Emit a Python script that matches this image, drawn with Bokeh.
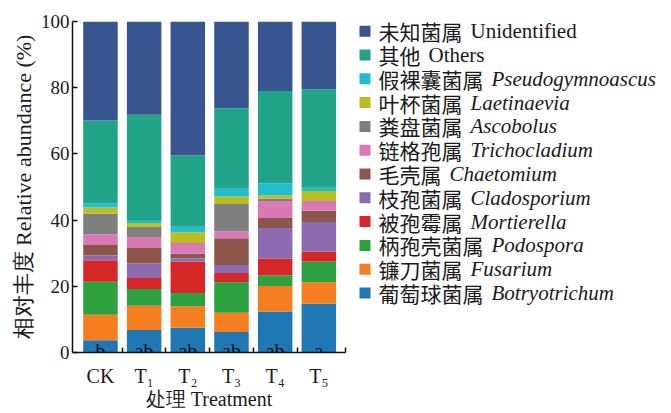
import math
from bokeh.plotting import figure
from bokeh.layouts import row
from bokeh.models import Range1d, FixedTicker, ColumnDataSource
from bokeh.core.properties import value
from bokeh.embed import file_html
from bokeh.resources import INLINE

treatments = ["CK", "T₁", "T₂", "T₃", "T₄", "T₅"]
letters = ["b", "ab", "ab", "ab", "ab", "a"]
y_ticks = [0, 20, 40, 60, 80, 100]
y_title = "相对丰度 Relative abundance (%)"
x_title = "处理 Treatment"

# stack order: bottom -> top
genera_cn = ["葡萄球菌属", "镰刀菌属", "柄孢壳菌属", "被孢霉属", "枝孢菌属", "毛壳属",
             "链格孢属", "粪盘菌属", "叶杯菌属", "假裸囊菌属", "其他", "未知菌属"]
genera_en = ["Botryotrichum", "Fusarium", "Podospora", "Mortierella", "Cladosporium",
             "Chaetomium", "Trichocladium", "Ascobolus", "Laetinaevia",
             "Pseudogymnoascus", "Others", "Unidentified"]
italic_en = [True] * 10 + [False, False]
colors = ["#1f77b4", "#f57f20", "#2ca140", "#d62728", "#8c6bb1", "#8c564b",
          "#d97ab6", "#7f7f7f", "#bcbd22", "#1fbecf", "#20a386", "#385590"]

botryotrichum = [3.7, 6.8, 7.5, 6.2, 12.4, 14.7]
fusarium = [7.7, 7.3, 6.5, 5.8, 7.7, 6.5]
podospora = [10.0, 5.1, 4.0, 9.2, 3.2, 6.3]
mortierella = [6.5, 3.3, 9.4, 2.8, 5.0, 3.0]
cladosporium = [1.4, 4.4, 1.0, 2.4, 9.3, 8.9]
chaetomium = [3.2, 4.7, 1.4, 8.1, 3.0, 3.4]
trichocladium = [3.2, 3.3, 3.3, 2.1, 5.2, 3.0]
ascobolus = [6.2, 3.0, 0.0, 8.3, 0.7, 0.0]
laetinaevia = [1.9, 1.2, 3.2, 2.2, 1.0, 3.0]
pseudogymnoascus = [1.2, 0.9, 1.7, 2.4, 3.6, 1.0]
others = [25.1, 31.8, 21.5, 24.3, 27.9, 29.7]
unidentified = [29.9, 28.2, 40.5, 26.2, 21.0, 20.5]

series = [botryotrichum, fusarium, podospora, mortierella, cladosporium, chaetomium,
          trichocladium, ascobolus, laetinaevia, pseudogymnoascus, others, unidentified]

SERIF = "Liberation Serif"
FS = "20px"
TOP_B = 21
FRAME_H = 331
BOT_B = 60
H = TOP_B + FRAME_H + BOT_B


def bare(fig):
    fig.axis.visible = False
    fig.grid.grid_line_color = None
    fig.outline_line_color = None


# ---- y-axis title panel ----
YW = 36
ylab = figure(width=YW, height=H, output_backend="svg", toolbar_location=None,
              x_range=Range1d(0, YW), y_range=Range1d(0, 100),
              min_border_left=0, min_border_right=0,
              min_border_top=TOP_B, min_border_bottom=BOT_B)
bare(ylab)
ylab.text(x=[22.5], y=[50], text=[y_title], angle=math.pi / 2, text_align="center",
          text_baseline="middle", text_font=value(SERIF), text_font_size="22px",
          text_color="#1a1a1a")

# ---- main chart ----
xs = list(range(len(treatments)))
data = {"x": xs, "letters": letters}
for name, vals in zip(genera_en, series):
    data[name] = vals
src = ColumnDataSource(data)

PW = 347 - YW
x_start, x_end = -0.64, len(treatments) - 1 + 0.61
p = figure(width=PW, height=H, output_backend="svg", toolbar_location=None,
           x_range=Range1d(x_start, x_end), y_range=Range1d(0, 100),
           min_border_left=72 - YW, min_border_right=2, min_border_top=TOP_B,
           min_border_bottom=BOT_B)
p.outline_line_color = None
p.grid.grid_line_color = None

p.vbar_stack(genera_en, x="x", width=0.79, source=src, fill_color=colors, line_color=None)
p.text(x="x", y=0, text="letters", source=src, text_align="center",
       text_baseline="alphabetic", y_offset=-2, text_font=value(SERIF),
       text_font_size=FS, text_color="#111111")

p.xaxis.ticker = FixedTicker(ticks=xs, minor_ticks=[i + 0.5 for i in xs[:-1]] + [x_end])
p.xaxis.major_label_overrides = {i: t for i, t in zip(xs, treatments)}
p.xaxis.major_tick_in = 0
p.xaxis.major_tick_out = 0
p.xaxis.minor_tick_in = 5
p.xaxis.minor_tick_out = 0
p.xaxis.major_label_standoff = 12
p.xaxis.axis_label = x_title
p.xaxis.axis_label_standoff = -2
p.xaxis.major_label_text_line_height = 1.0
p.xaxis.axis_label_text_line_height = 1.0

p.yaxis.ticker = FixedTicker(ticks=y_ticks, minor_ticks=[])
p.yaxis.major_tick_in = 5
p.yaxis.major_tick_out = 0
p.yaxis.minor_tick_in = 0
p.yaxis.minor_tick_out = 0
p.yaxis.major_label_standoff = 3

for ax in (p.xaxis, p.yaxis):
    ax.axis_line_width = 1.5
    ax.axis_line_color = "#111111"
    ax.major_tick_line_width = 1.5
    ax.minor_tick_line_width = 1.5
    ax.major_tick_line_color = "#111111"
    ax.minor_tick_line_color = "#111111"
    ax.major_label_text_font = SERIF
    ax.major_label_text_font_size = FS
    ax.major_label_text_color = "#1a1a1a"
    ax.axis_label_text_font = SERIF
    ax.axis_label_text_font_size = FS
    ax.axis_label_text_font_style = "normal"
    ax.axis_label_text_color = "#1a1a1a"
p.yaxis.major_label_text_font_size = "19px"

# ---- legend panel (frame aligned with main plot frame; y in page pixels) ----
LW = 320
q = figure(width=LW, height=H, output_backend="svg", toolbar_location=None,
           x_range=Range1d(0, LW), y_range=Range1d(TOP_B + FRAME_H, TOP_B),
           min_border_left=0, min_border_right=0,
           min_border_top=TOP_B, min_border_bottom=BOT_B)
bare(q)

order = list(range(len(genera_en)))[::-1]  # top of stack first
n = len(order)
row_y = [30.7 + 23.8 * k for k in range(n)]
cn = [genera_cn[i] for i in order]
en = [genera_en[i] for i in order]
col = [colors[i] for i in order]
ital = [italic_en[i] for i in order]
FL = 21
FSL = f"{FL}px"
offs = [len(c) * FL + 8 for c in cn]
SQ_X = 364.5 - YW - PW
TX_X = 378 - YW - PW

leg = ColumnDataSource(dict(y=row_y, cn=cn, en=en, color=col, off=offs))
q.scatter(x=SQ_X, y="y", marker="square", size=11, fill_color="color",
          line_color=None, source=leg)
q.text(x=TX_X, y="y", text="cn", source=leg, text_baseline="middle",
       text_font=value("Noto Sans CJK SC"), text_font_size=FSL, text_color="#1a1a1a")

up_idx = [k for k in range(n) if not ital[k]]
it_idx = [k for k in range(n) if ital[k]]
for idxs, style in ((up_idx, "normal"), (it_idx, "italic")):
    s = ColumnDataSource(dict(y=[row_y[k] for k in idxs], en=[en[k] for k in idxs],
                              off=[offs[k] for k in idxs]))
    q.text(x=TX_X, y="y", text="en", x_offset="off", source=s, text_baseline="middle",
           text_font=value(SERIF), text_font_style=style, text_font_size=FSL,
           text_color="#1a1a1a")

layout = row(ylab, p, q)
open("out.html", "w").write(file_html(layout, INLINE))
